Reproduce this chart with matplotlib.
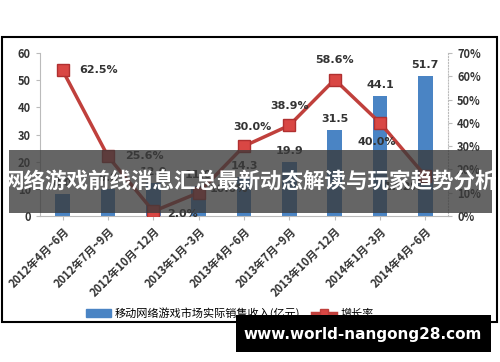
import numpy as np
import matplotlib.pyplot as plt
from matplotlib.patches import Rectangle
from matplotlib.lines import Line2D
from matplotlib.patches import Patch

plt.rcParams['font.family'] = ['Noto Sans CJK SC', 'DejaVu Sans']

periods = ['2012年4月~6月', '2012年7月~9月', '2012年10月~12月', '2013年1月~3月',
           '2013年4月~6月', '2013年7月~9月', '2013年10月~12月', '2014年1月~3月',
           '2014年4月~6月']
revenue = [8.0, 9.8, 12.0, 11.0, 14.3, 19.9, 31.5, 44.1, 51.7]
growth = [62.5, 25.6, 2.0, 10.0, 30.0, 38.9, 58.6, 40.0, 17.2]

bar_color = '#4a84c4'
line_color = '#c0403c'

fig = plt.figure(figsize=(5, 3.62), dpi=100)
W, H = 500, 362

def fx(px):
    return px / W

def fy(py):
    return 1 - py / H

# outer frame of the chart
fig.patches.append(Rectangle((fx(2), fy(322)), fx(495), 285 / H, transform=fig.transFigure,
                             fill=False, edgecolor='black', linewidth=1.5))

ax = fig.add_axes([fx(40), fy(216), fx(408), 163 / H])
ax2 = ax.twinx()

x = np.arange(len(periods))
ax.bar(x, revenue, width=0.32, color=bar_color, zorder=2)
for i, v in enumerate(revenue):
    ax.text(i, v + 2.2, '%.1f' % v, ha='center', va='bottom', fontsize=8,
            fontweight='bold', color='#333333', family='DejaVu Sans')

ax.set_ylim(0, 60)
ax.set_xlim(-0.5, len(periods) - 0.5)
ax.set_yticks(range(0, 61, 10))
ax.set_xticks(x)
ax.set_xticklabels(periods, rotation=45, ha='right', rotation_mode='anchor', fontsize=7)

ax2.plot(x, growth, color=line_color, linewidth=2.5, marker='s', markersize=8.5,
         markerfacecolor='#d94744', markeredgecolor='#b03030', zorder=3)
ax2.set_ylim(0, 70)
ax2.set_yticks(range(0, 71, 10))
ax2.set_yticklabels(['%d%%' % t for t in range(0, 71, 10)])

offsets = [(12, 0, 'left'), (12, 0, 'left'), (10, -2, 'left'), (8, 3, 'left'),
           (6, 14, 'center'), (0, 14, 'center'), (0, 14, 'center'), (-2, -14, 'center'),
           (-2, -8, 'right')]
for i, g in enumerate(growth):
    dx, dy, ha = offsets[i]
    ax2.annotate('%.1f%%' % g, (i, g), xytext=(dx, dy), textcoords='offset points',
                 ha=ha, va='center', fontsize=8, fontweight='bold', color='#333333',
                 family='DejaVu Sans')

for a in (ax, ax2):
    for s in a.spines.values():
        s.set_visible(False)
    a.tick_params(labelsize=8, colors='#333333', length=3)
    for lab in a.get_yticklabels():
        lab.set_fontweight('bold')
ax.spines['left'].set_visible(True)
ax.spines['left'].set_color('#bbbbbb')
ax.spines['bottom'].set_visible(True)
ax.spines['bottom'].set_color('#bbbbbb')
ax2.spines['right'].set_visible(True)
ax2.spines['right'].set_color('#bbbbbb')
ax2.spines['right'].set_linestyle(':')
ax.tick_params(axis='both', color='#bbbbbb')
ax2.tick_params(axis='y', color='#bbbbbb')
for lab in ax.get_xticklabels():
    lab.set_fontweight('bold')

handles = [Patch(color=bar_color),
           Line2D([0], [0], color=line_color, linewidth=2.5, marker='s', markersize=6,
                  markerfacecolor='#d94744')]
fig.legend(handles, ['移动网络游戏市场实际销售收入(亿元)', '增长率'], loc='center',
           bbox_to_anchor=(fx(230), fy(313)), ncol=2, frameon=False, fontsize=8,
           handlelength=2.2, columnspacing=1.0, handletextpad=0.4)

# overlay banner
fig.patches.append(Rectangle((fx(9), fy(213)), fx(483), 63 / H, transform=fig.transFigure,
                             facecolor='#3a3a3a', alpha=0.78, edgecolor='none', zorder=10))
fig.text(fx(250), fy(182), '网络游戏前线消息汇总最新动态解读与玩家趋势分析', ha='center',
         va='center', fontsize=15.5, fontweight='bold', color='white', zorder=11)

# watermark
fig.patches.append(Rectangle((fx(236), fy(352)), fx(255), 37 / H, transform=fig.transFigure,
                             facecolor='black', edgecolor='none', zorder=10))
fig.text(fx(363), fy(334), 'www.world-nangong28.com', ha='center', va='center',
         fontsize=11, fontweight='bold', color='white', family='DejaVu Sans', zorder=11)

fig.savefig('out.png', dpi=100)
